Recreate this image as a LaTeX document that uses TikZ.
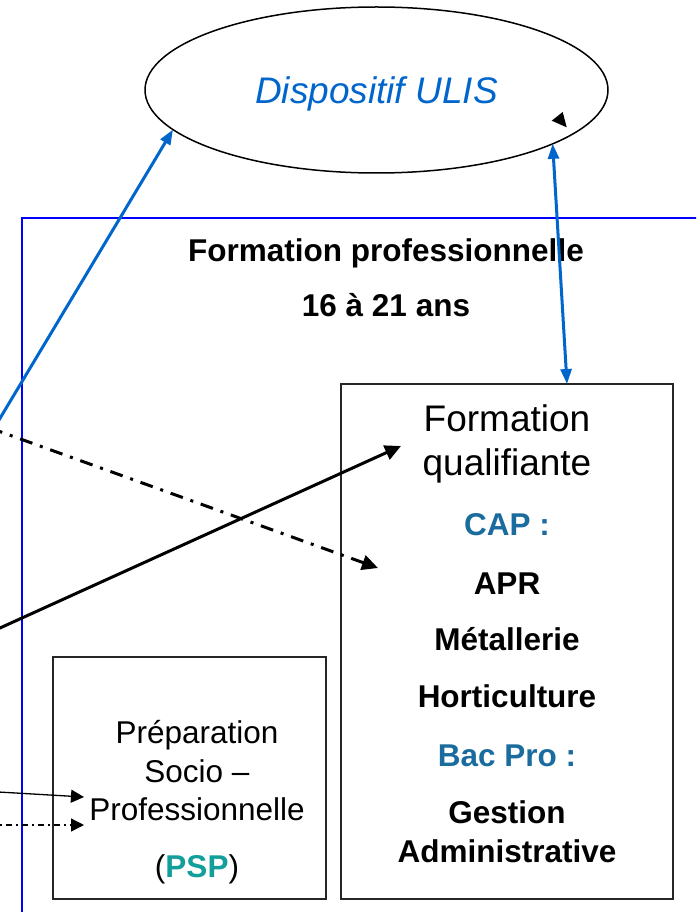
\documentclass[tikz,border=0pt]{standalone}
\usepackage{fontspec}
\setmainfont{Liberation Sans}
\usetikzlibrary{shapes.geometric,arrows.meta}
\definecolor{ulisblue}{RGB}{0,102,204}
\definecolor{frameblue}{RGB}{0,0,255}
\definecolor{diplome}{RGB}{27,108,158}
\definecolor{pspteal}{RGB}{18,158,155}

\begin{document}
\begin{tikzpicture}[x=1pt,y=-1pt,
  txt/.style={anchor=base,inner sep=0pt,font=\fontsize{31.5}{38}\selectfont},
  btxt/.style={anchor=base,inner sep=0pt,font=\fontsize{31.5}{38}\selectfont\bfseries},
  bigtxt/.style={anchor=base,inner sep=0pt,font=\fontsize{37}{44}\selectfont},
  boxline/.style={draw=black!85,line width=1.4pt}]
\clip (0,0) rectangle (696,912);
\draw[frameblue,line width=1.5pt] (22,940)--(22,218)--(720,218);
\begin{scope}[outer sep=0pt]
\node[ellipse,draw,line width=1.5pt,minimum width=463pt,minimum height=166pt,inner sep=0pt] (ulis) at (376.5,90) { };
\node[bigtxt,ulisblue,font=\fontsize{37}{44}\selectfont\itshape] (ulistxt) at (376.5,104) { Dispositif ULIS };
\node[btxt] (titre) at (386,261) { Formation professionnelle };
\node[btxt] (age) at (386,316) { 16 à 21 ans };
\node[boxline,minimum width=332pt,minimum height=515pt] (fq) at (507,641.5) { };
\node[bigtxt] (form) at (507,431) { Formation };
\node[bigtxt] (qual) at (507,475) { qualifiante };
\node[btxt,diplome] (cap) at (507,535) { CAP : };
\node[btxt] (apr) at (507,594) { APR };
\node[btxt] (metal) at (507,650) { Métallerie };
\node[btxt] (horti) at (507,707) { Horticulture };
\node[btxt,diplome] (bac) at (507,766) { Bac Pro : };
\node[btxt] (gest) at (507,823) { Gestion };
\node[btxt] (admin) at (507,862) { Administrative };
\node[boxline,minimum width=273pt,minimum height=242pt] (psp) at (189.5,778) { };
\node[txt] (prep) at (197,743) { Préparation };
\node[txt] (socio) at (197,782) { Socio – };
\node[txt] (pro) at (197,820) { Professionnelle };
\node[txt] (sigle) at (197,877) { (\textcolor{pspteal}{\bfseries PSP}) };
\end{scope}
\coordinate (b1) at (-10,435);
\coordinate (fqtop) at (567,384);
\coordinate (dd1) at (-10,428);
\coordinate (dd2) at (378,568);
\coordinate (s1) at (-10,632.5);
\coordinate (s2) at (401,446);
\coordinate (p1) at (-10,791.5);
\coordinate (p2) at (84,797);
\coordinate (q1) at (-10,825);
\coordinate (q2) at (84,825);
\draw[ulisblue,line width=3pt,-{Triangle[length=15pt,width=11pt]}] (b1)--(ulis.191);
\draw[ulisblue,line width=3pt,{Triangle[length=15pt,width=11pt]}-{Triangle[length=15pt,width=11pt]}] (ulis.343)--(fqtop);
\draw[line width=3pt,-{Triangle[length=16pt,width=15pt]}] (s1)--(s2);
\draw[line width=3pt,dash pattern=on 13pt off 8pt on 3pt off 8pt,-{Triangle[length=16pt,width=15pt]}] (dd1)--(dd2);
\draw[line width=1.3pt,-{Triangle[length=13pt,width=13pt]}] (p1)--(p2);
\draw[line width=1.3pt,dash pattern=on 6pt off 4pt on 2pt off 4pt,-{Triangle[length=13pt,width=13pt]}] (q1)--(q2);
\fill (551.7,120.7)--(562.7,112)--(566.7,127.3)--cycle;
\end{tikzpicture}
\end{document}
